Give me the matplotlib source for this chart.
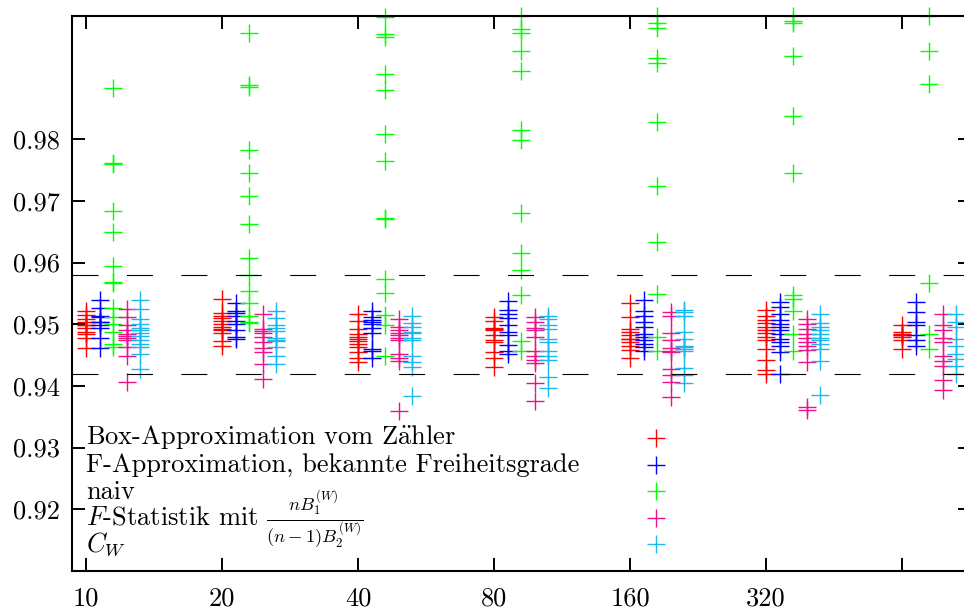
import numpy as np
import matplotlib.pyplot as plt
import matplotlib

matplotlib.rcParams['mathtext.fontset'] = 'cm'
matplotlib.rcParams['font.family'] = ['cmr10', 'DejaVu Serif']
matplotlib.rcParams['axes.formatter.use_mathtext'] = True
matplotlib.rcParams['lines.scale_dashes'] = False
matplotlib.rcParams.update({'font.size': 19})

# Stichprobenumfang n (letzte Gruppe ohne Beschriftung)
n_labels = ['10', '20', '40', '80', '160', '320', '']

labels = [r'Box-Approximation vom Z$\mathrm{\ddot{a}}$hler',
          'F-Approximation, bekannte Freiheitsgrade',
          'naiv',
          r'$F$-Statistik mit $\frac{nB_1^{(W)}}{(n-1)B_2^{(W)}}$',
          r'$C_W$']
colors = ['#ff0000', '#0000ff', '#00ff00', '#ee1188', '#1ab8ee']

# Überdeckungswahrscheinlichkeiten, je Gruppe eine Liste
box_approx = [
    [0.9521, 0.9515, 0.9508, 0.9504, 0.9499, 0.9494, 0.9488, 0.9484, 0.9478, 0.9461, 0.9499],
    [0.9541, 0.9518, 0.9513, 0.9510, 0.9505, 0.9501, 0.9496, 0.9493, 0.9490, 0.9485, 0.9472, 0.9465],
    [0.9517, 0.9506, 0.9493, 0.9484, 0.9480, 0.9476, 0.9472, 0.9468, 0.9463, 0.9455, 0.9446, 0.9439],
    [0.9511, 0.9506, 0.9494, 0.9491, 0.9492, 0.9482, 0.9474, 0.9471, 0.9455, 0.9446, 0.9431],
    [0.9534, 0.9511, 0.9493, 0.9487, 0.9482, 0.9476, 0.9471, 0.9465, 0.9458, 0.9446, 0.9476],
    [0.9523, 0.9514, 0.9507, 0.9502, 0.9496, 0.9491, 0.9485, 0.9480, 0.9474, 0.9460, 0.9442, 0.9426, 0.9420],
    [0.9498, 0.9487, 0.9483, 0.9484, 0.9479, 0.9474, 0.9460, 0.9483],
]
f_approx = [
    [0.9540, 0.9526, 0.9514, 0.9511, 0.9503, 0.9499, 0.9494, 0.9477, 0.9462, 0.9503],
    [0.9534, 0.9522, 0.9518, 0.9514, 0.9506, 0.9501, 0.9490, 0.9480, 0.9476],
    [0.9521, 0.9511, 0.9507, 0.9503, 0.9500, 0.9494, 0.9485, 0.9460, 0.9456, 0.9446],
    [0.9537, 0.9523, 0.9517, 0.9510, 0.9498, 0.9487, 0.9483, 0.9467, 0.9456, 0.9452],
    [0.9540, 0.9522, 0.9514, 0.9503, 0.9495, 0.9484, 0.9479, 0.9474, 0.9468, 0.9463, 0.9456],
    [0.9536, 0.9528, 0.9517, 0.9507, 0.9501, 0.9495, 0.9490, 0.9484, 0.9476, 0.9471, 0.9465, 0.9455, 0.9420],
    [0.9536, 0.9520, 0.9503, 0.9498, 0.9482, 0.9474, 0.9464],
]
naiv = [
    [0.9883, 0.9762, 0.9760, 0.9684, 0.9649, 0.9595, 0.9569, 0.9566,
     0.9526, 0.9511, 0.9500, 0.9488, 0.9468, 0.9463],
    [0.9972, 0.9888, 0.9884, 0.9782, 0.9745, 0.9708, 0.9663, 0.9607, 0.9580,
     0.9554, 0.9534, 0.9513, 0.9503, 0.9502],
    [0.9998, 0.9970, 0.9965, 0.9906, 0.9880, 0.9808, 0.9764, 0.9672, 0.9671,
     0.9573, 0.9551, 0.9515, 0.9498, 0.9448],
    [0.9999, 0.9979, 0.9972, 0.9943, 0.9911, 0.9815, 0.9798, 0.9680, 0.9615,
     0.9588, 0.9547, 0.9472, 0.9457],
    [1.0000, 0.9988, 0.9980, 0.9932, 0.9924, 0.9828, 0.9724, 0.9633, 0.9549,
     0.9479, 0.9456],
    [1.0000, 0.9991, 0.9988, 0.9935, 0.9837, 0.9745, 0.9547, 0.9541, 0.9522,
     0.9484, 0.9456],
    [1.0000, 0.9943, 0.9890, 0.9567, 0.9484, 0.9460],
]
f_stat = [
    [0.9524, 0.9511, 0.9498, 0.9491, 0.9484, 0.9481, 0.9477, 0.9474, 0.9463, 0.9448, 0.9407],
    [0.9517, 0.9493, 0.9489, 0.9485, 0.9479, 0.9471, 0.9462, 0.9455, 0.9436, 0.9411],
    [0.9509, 0.9495, 0.9490, 0.9485, 0.9482, 0.9478, 0.9474, 0.9451, 0.9446, 0.9441, 0.9360],
    [0.9511, 0.9503, 0.9494, 0.9490, 0.9479, 0.9457, 0.9449, 0.9442, 0.9437, 0.9404, 0.9376],
    [0.9520, 0.9514, 0.9485, 0.9474, 0.9462, 0.9457, 0.9455, 0.9428, 0.9417, 0.9407, 0.9382],
    [0.9509, 0.9501, 0.9493, 0.9484, 0.9478, 0.9471, 0.9465, 0.9458, 0.9438, 0.9366, 0.9361],
    [0.9517, 0.9498, 0.9490, 0.9478, 0.9471, 0.9448, 0.9441, 0.9433, 0.9410, 0.9394],
]
c_w = [
    [0.9540, 0.9525, 0.9508, 0.9501, 0.9494, 0.9490, 0.9486, 0.9481, 0.9475, 0.9468, 0.9463, 0.9452, 0.9427],
    [0.9521, 0.9510, 0.9498, 0.9494, 0.9489, 0.9478, 0.9475, 0.9472, 0.9463, 0.9448, 0.9436],
    [0.9514, 0.9502, 0.9495, 0.9488, 0.9485, 0.9478, 0.9475, 0.9448, 0.9438, 0.9430, 0.9384],
    [0.9514, 0.9509, 0.9498, 0.9493, 0.9476, 0.9471, 0.9457, 0.9449, 0.9442, 0.9415, 0.9397],
    [0.9523, 0.9520, 0.9514, 0.9487, 0.9476, 0.9465, 0.9463, 0.9460, 0.9456, 0.9429, 0.9417, 0.9404],
    [0.9517, 0.9502, 0.9495, 0.9490, 0.9484, 0.9478, 0.9474, 0.9468, 0.9460, 0.9441, 0.9386],
    [0.9517, 0.9503, 0.9495, 0.9476, 0.9465, 0.9452, 0.9444, 0.9433, 0.9420],
]
series = [box_approx, f_approx, naiv, f_stat, c_w]

band = [0.942, 0.958]

fig = plt.figure(figsize=(9.64, 6.09), dpi=100)
ax = fig.add_axes([0.0747, 0.0624, 0.933, 0.9118])

handles = []
for s, (data, col) in enumerate(zip(series, colors)):
    for i, vals in enumerate(data):
        h, = ax.plot(np.full(len(vals), i + 0.1 * s), vals, linestyle='none',
                     marker='+', markersize=12.5, markeredgewidth=1.0,
                     color=col, clip_on=False)
    handles.append(h)

for b in band:
    ax.axhline(b, color='black', lw=0.8, dashes=(18.7, 20.5))

ax.set_xlim(-0.103, 6.51)
ax.set_ylim(0.91, 1.0)
ax.set_xticks(range(len(n_labels)))
ax.set_xticklabels(n_labels)
ax.set_yticks([0.92, 0.93, 0.94, 0.95, 0.96, 0.97, 0.98])
ax.set_yticklabels(['0.92', '0.93', '0.94', '0.95', '0.96', '0.97', '0.98'])
ax.tick_params(direction='in', length=9.4, width=1.4, top=True, right=True)
ax.tick_params(axis='x', pad=11)
ax.tick_params(axis='y', pad=9)
for sp in ax.spines.values():
    sp.set_linewidth(1.5)

# Legende im gnuplot-Stil: Text links, Symbole rechts
ytext = [0.228, 0.179, 0.129, 0.0816, 0.0348]
for lab, yy in zip(labels, ytext):
    ax.text(0, yy, lab, transform=ax.get_xaxis_transform(), va='baseline', ha='left')

leg = ax.legend(handles, [''] * 5, loc='center', bbox_to_anchor=(0.6496, 0.141),
                frameon=False, handlelength=1.0, handletextpad=0, borderpad=0,
                borderaxespad=0, labelspacing=0.99, fontsize=10)

fig.savefig('out.png', dpi=100)
